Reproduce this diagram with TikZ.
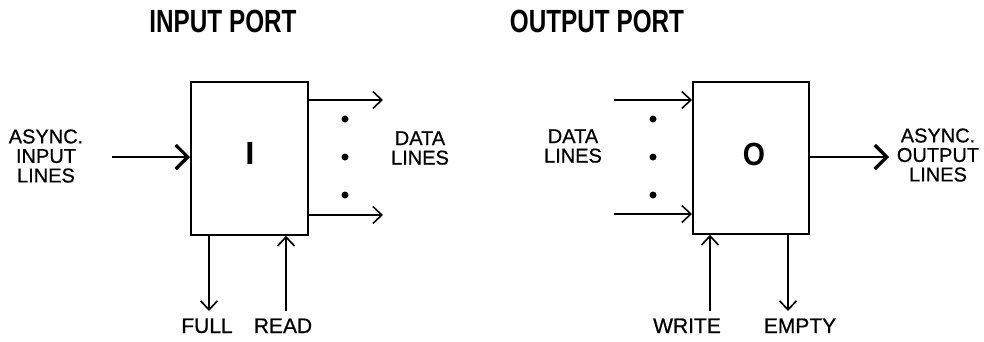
\documentclass[tikz,border=0pt]{standalone}
\usepackage{fontspec}
\setmainfont{Liberation Sans}
\newfontfamily\lblfont{Liberation Sans}[FakeBold=0.6]
\usetikzlibrary{arrows.meta}
\begin{document}
\begin{tikzpicture}[x=1pt,y=-1pt,
  port/.style={draw,line width=1.8pt,minimum width=117pt,minimum height=153pt,inner sep=0pt,anchor=north west},
  title/.style={font=\fontsize{30}{30}\selectfont\bfseries,inner sep=0pt,anchor=base},
  big/.style={font=\fontsize{30}{30}\selectfont\bfseries,inner sep=0pt},
  lbl/.style={font=\lblfont\fontsize{20}{19.5}\selectfont,align=center,inner sep=0pt},
  blbl/.style={font=\lblfont\fontsize{21}{20}\selectfont,inner sep=0pt,anchor=base},
  dataarrow/.style={line width=1.5pt,-{Straight Barb[length=9pt,width=17pt,line width=1.6pt]}},
  ctrlarrow/.style={line width=1.6pt,-{Straight Barb[length=9pt,width=17pt,line width=1.7pt]}},
  thickarrow/.style={line width=2.8pt,-{Straight Barb[length=12pt,width=24pt,line width=3.2pt]}},
  dot/.style={circle,fill,inner sep=0pt,minimum size=7pt}]
\useasboundingbox (0,0) rectangle (984,341);

% titles
\node[title] (tin) at (223,32) {\scalebox{0.81}[1.07]{INPUT PORT}};
\node[title] (tout) at (597,32) {\scalebox{0.81}[1.07]{OUTPUT PORT}};

% ---------- input port ----------
\node[port] (ibox) at (190,81) {};
\node[big] (iletter) at (250,153.5) {\scalebox{1.1}[1.07]{I}};
\node[lbl] (ain) at (46,156) {ASYNC.\\INPUT\\LINES};
\coordinate (ainS) at (112,157);
\draw[thickarrow] (ainS) -- (ibox.west |- ainS);

\coordinate (id1) at (383,100);
\coordinate (id2) at (383,215);
\draw[dataarrow] (ibox.east |- id1) -- (id1);
\draw[dataarrow] (ibox.east |- id2) -- (id2);
\node[dot] (idot1) at (345,119) {};
\node[dot] (idot2) at (345,157) {};
\node[dot] (idot3) at (345,195) {};
\node[lbl] (idata) at (420,148) {DATA\\LINES};

\node[blbl] (full) at (207,333) {FULL};
\node[blbl] (read) at (283,333) {READ};
\coordinate (fullE) at (209,311);
\coordinate (readS) at (286,311);
\draw[ctrlarrow] (ibox.south -| fullE) -- (fullE);
\draw[ctrlarrow] (readS) -- (ibox.south -| readS);

% ---------- output port ----------
\node[port,minimum width=116pt,minimum height=152pt] (obox) at (692,81) {};
\node[big] (oletter) at (754,154) {\scalebox{0.95}[1.07]{O}};
\node[lbl] (odata) at (573,146) {DATA\\LINES};
\coordinate (od1) at (614,100);
\coordinate (od2) at (614,214);
\draw[dataarrow] (od1) -- (obox.west |- od1);
\draw[dataarrow] (od2) -- (obox.west |- od2);
\node[dot] (odot1) at (653,119) {};
\node[dot] (odot2) at (653,157) {};
\node[dot] (odot3) at (653,195) {};

\node[lbl] (aout) at (938,155) {ASYNC.\\OUTPUT\\LINES};
\coordinate (aoutE) at (889,157);
\draw[thickarrow] (obox.east |- aoutE) -- (aoutE);

\node[blbl] (write) at (687,333) {WRITE};
\node[blbl] (empty) at (800,333) {EMPTY};
\coordinate (writeS) at (710,311);
\coordinate (emptyE) at (788,311);
\draw[ctrlarrow] (writeS) -- (obox.south -| writeS);
\draw[ctrlarrow] (obox.south -| emptyE) -- (emptyE);
\end{tikzpicture}
\end{document}
